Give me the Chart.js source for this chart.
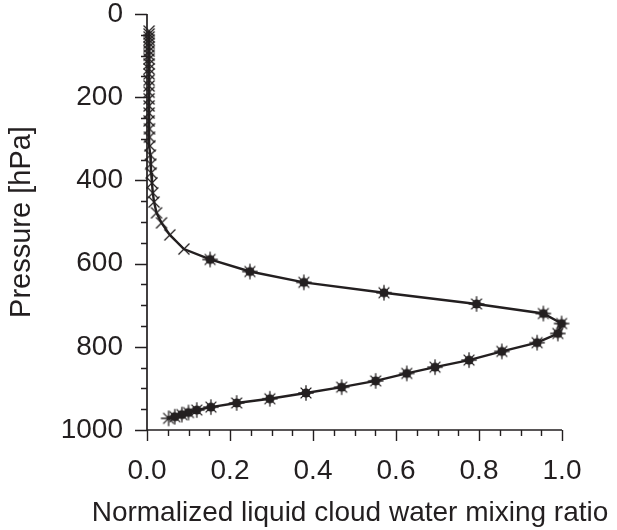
<!DOCTYPE html>
<html>
<head>
<meta charset="utf-8">
<script src="https://cdn.jsdelivr.net/npm/chart.js@4.4.1/dist/chart.umd.min.js"></script>
<style>
  html, body { margin: 0; padding: 0; background: #fff; }
  #wrap { width: 617px; height: 530px; }
</style>
</head>
<body>
<div id="wrap"><canvas id="profileChart" width="617" height="530"></canvas></div>
<script>
// model levels (hPa) and normalized liquid cloud water at each level
const pressureLevels = [
  41, 48, 55, 62, 70, 79, 89, 99, 108, 120, 132, 144, 159, 173, 188, 204,
  221, 238, 257, 276, 296, 317, 339, 361, 382, 406, 430, 452, 478, 502, 531, 565,
  590, 619, 645, 670, 697, 720, 744, 768, 790, 811, 832, 849, 864, 882, 897,
  911, 925, 935, 945, 952, 958, 963, 968, 972
];
const cloudWater = [
  0.005, 0.005, 0.005, 0.005, 0.005, 0.005, 0.005, 0.005, 0.005, 0.005, 0.005,
  0.005, 0.005, 0.005, 0.005, 0.005, 0.005, 0.005, 0.005, 0.006, 0.006, 0.007,
  0.008, 0.009, 0.010, 0.012, 0.014, 0.017, 0.023, 0.035, 0.055, 0.089,
  0.152, 0.248, 0.378, 0.571, 0.794, 0.955, 0.999, 0.990, 0.940, 0.855, 0.776,
  0.694, 0.626, 0.551, 0.469, 0.383, 0.296, 0.216, 0.154, 0.120, 0.100, 0.084,
  0.067, 0.052
];
const xTicks = [0, 0.2, 0.4, 0.6, 0.8, 1.0];
const yTicks = [0, 200, 400, 600, 800, 1000];
const xTitle = "Normalized liquid cloud water mixing ratio";
const yTitle = "Pressure [hPa]";

const ink = "#231f20";
const fontFamily = "'Liberation Sans', Arial, Helvetica, sans-serif";

// marker images
function makeMarker(kind) {
  const c = document.createElement("canvas");
  c.width = 20;
  c.height = 20;
  const g = c.getContext("2d");
  g.strokeStyle = ink;
  g.fillStyle = ink;
  g.lineWidth = 1.3;
  g.beginPath();
  if (kind === "cross") {
    g.moveTo(4.5, 4.5); g.lineTo(15.5, 15.5);
    g.moveTo(15.5, 4.5); g.lineTo(4.5, 15.5);
  } else {
    g.moveTo(2.3, 10); g.lineTo(17.7, 10);
    g.moveTo(10, 2.3); g.lineTo(10, 17.7);
    g.moveTo(4.6, 4.6); g.lineTo(15.4, 15.4);
    g.moveTo(15.4, 4.6); g.lineTo(4.6, 15.4);
  }
  g.stroke();
  if (kind === "star") {
    g.beginPath();
    g.arc(10, 10, 4.6, 0, Math.PI * 2);
    g.fill();
  }
  return c;
}
const crossMark = makeMarker("cross");
const starMark = makeMarker("star");
const bareStarMark = makeMarker("bare");

function markerFor(ctx) {
  const p = pressureLevels[ctx.dataIndex];
  if (p < 580) return crossMark;
  if (p > 970) return bareStarMark;
  return starMark;
}

// axis lines, outward major/minor ticks, x title (too wide for the scale box)
const axesPlugin = {
  id: "axesPlugin",
  afterDraw(chart) {
    const { ctx, chartArea } = chart;
    const xs = chart.scales.x;
    const ys = chart.scales.y;
    ctx.save();
    ctx.strokeStyle = ink;
    ctx.lineWidth = 1.7;
    ctx.beginPath();
    ctx.moveTo(chartArea.left, chartArea.top);
    ctx.lineTo(chartArea.left, chartArea.bottom);
    ctx.lineTo(chartArea.right, chartArea.bottom);
    ctx.stroke();

    ctx.lineWidth = 1.4;
    ctx.beginPath();
    for (let p = 0; p <= 1000; p += 50) {
      const py = Math.round(ys.getPixelForValue(p)) + 0.5;
      const len = p % 200 === 0 ? 12 : 6;
      ctx.moveTo(chartArea.left, py);
      ctx.lineTo(chartArea.left - len, py);
    }
    for (let i = 0; i <= 20; i++) {
      const px = Math.round(xs.getPixelForValue(i * 0.05)) + 0.5;
      const len = i % 4 === 0 ? 11 : 6;
      ctx.moveTo(px, chartArea.bottom);
      ctx.lineTo(px, chartArea.bottom + len);
    }
    ctx.stroke();

    ctx.fillStyle = ink;
    ctx.font = "28px " + fontFamily;
    ctx.textAlign = "center";
    ctx.textBaseline = "middle";
    ctx.fillText(xTitle, 350, 513);
    ctx.restore();
  }
};

Chart.defaults.font.family = fontFamily;
Chart.defaults.color = ink;

new Chart(document.getElementById("profileChart"), {
  type: "line",
  data: {
    datasets: [
      {
        data: pressureLevels.map((p, i) => ({ x: cloudWater[i], y: p })),
        borderColor: ink,
        borderWidth: 2.4,
        pointStyle: markerFor,
        pointRadius: 8,
        pointHoverRadius: 8,
        tension: 0,
        clip: false,
      },
    ],
  },
  options: {
    responsive: false,
    animation: false,
    events: [],
    layout: { padding: { top: 14, right: 55, left: 0, bottom: 0 } },
    plugins: { legend: { display: false }, tooltip: { enabled: false } },
    scales: {
      x: {
        type: "linear",
        min: 0,
        max: 1,
        grid: { display: false, drawTicks: false },
        border: { display: false },
        afterBuildTicks: (s) => { s.ticks = xTicks.map((v) => ({ value: v })); },
        afterFit: (s) => {
          s.height = 100;
          s.paddingLeft = 0;
          s.paddingRight = 0;
        },
        ticks: {
          autoSkip: false,
          maxRotation: 0,
          padding: 27,
          font: { size: 28, lineHeight: 1 },
          callback: (v) => Number(v).toFixed(1),
        },
      },
      y: {
        type: "linear",
        reverse: true,
        min: 0,
        max: 1000,
        grid: { display: false, drawTicks: false },
        border: { display: false },
        afterBuildTicks: (s) => { s.ticks = yTicks.map((v) => ({ value: v })); },
        afterFit: (s) => {
          s.width = 147;
          s.paddingTop = 0;
          s.paddingBottom = 0;
        },
        ticks: {
          autoSkip: false,
          padding: 24,
          font: { size: 28, lineHeight: 1 },
          callback: (v) => String(v),
        },
        title: {
          display: true,
          text: yTitle,
          font: { size: 29, lineHeight: 1.2 },
          padding: { top: 5, bottom: 0 },
        },
      },
    },
  },
  plugins: [axesPlugin],
});
</script>
</body>
</html>
